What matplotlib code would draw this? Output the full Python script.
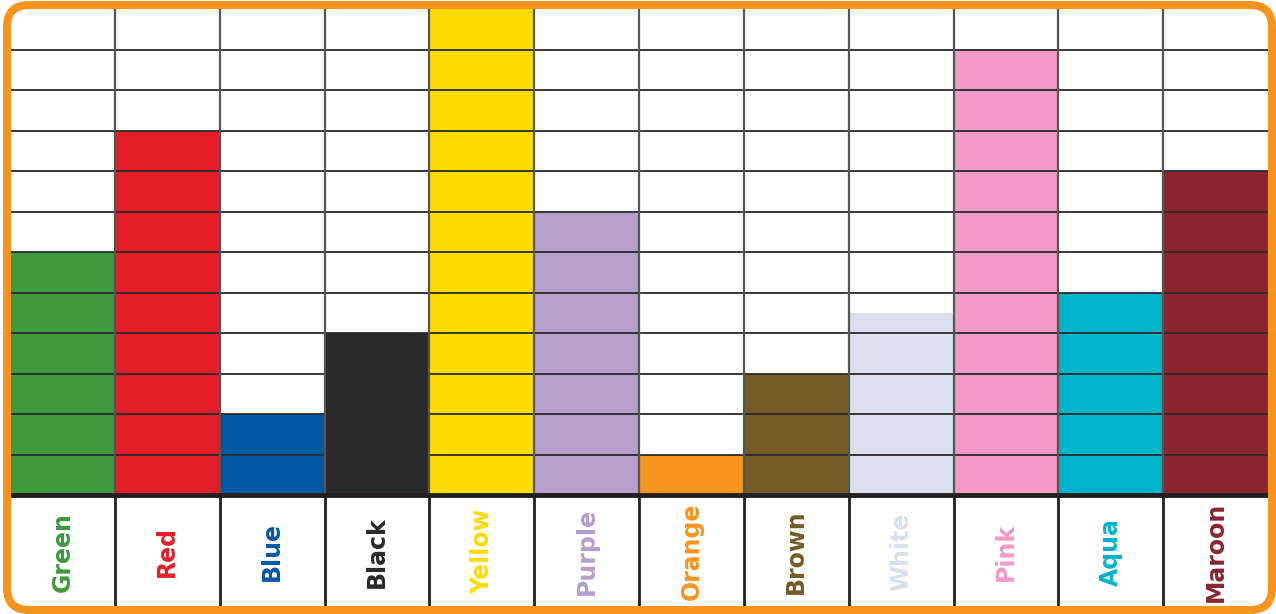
import matplotlib.pyplot as plt
from matplotlib.patches import FancyBboxPatch

colors_names = ["Green", "Red", "Blue", "Black", "Yellow", "Purple",
                "Orange", "Brown", "White", "Pink", "Aqua", "Maroon"]
counts = [6, 9, 2, 4, 12, 7, 1, 3, 4.5, 11, 5, 8]
bar_colors = ["#3e9a3d", "#e31e26", "#0059a3", "#2b2a2a", "#ffdc00", "#b59fcb",
              "#f7941d", "#775b26", "#dae1ed", "#f29ac3", "#00b4cc", "#8a2530"]

W, H = 1276, 614
fig = plt.figure(figsize=(W / 100, H / 100), dpi=100)
fig.patch.set_facecolor("white")

# bar grid area
ax = fig.add_axes([10 / W, (H - 495) / H, 1258 / W, 486 / H])
n = len(counts)
ax.bar(range(n), counts, width=1.0, align="edge", color=bar_colors, zorder=1)
for y in range(1, 12):
    ax.axhline(y, color="#2a2a2a", lw=1.3, zorder=3)
for x in range(1, n):
    ax.axvline(x, color="#555555", lw=1.6, zorder=3)
ax.axhline(0, color="#231f20", lw=3.5, zorder=4, clip_on=False)
ax.set_xlim(0, n)
ax.set_ylim(0, 12)
ax.axis("off")

# label row (from the thick line down to the frame)
lab = fig.add_axes([10 / W, 3 / H, 1258 / W, 114 / H])
for x in range(1, n):
    lab.axvline(x, color="#231f20", lw=2, zorder=3)
for i, name in enumerate(colors_names):
    lab.text(i + 0.5, 0.52, name, rotation=90, ha="center", va="center",
             color=bar_colors[i], fontsize=17, fontweight="bold",
             family="DejaVu Sans")
lab.set_xlim(0, n)
lab.set_ylim(0, 1)
lab.axis("off")

# rounded orange frame
ov = fig.add_axes([0, 0, 1, 1], zorder=10)
ov.set_xlim(0, W)
ov.set_ylim(0, H)
ov.patch.set_alpha(0)
ov.axis("off")
ov.add_patch(FancyBboxPatch((7, 4), 1265, 605,
                            boxstyle="round,pad=0,rounding_size=22",
                            fill=False, edgecolor="#f7941d", lw=5.8))

fig.savefig("out.png", dpi=100)
